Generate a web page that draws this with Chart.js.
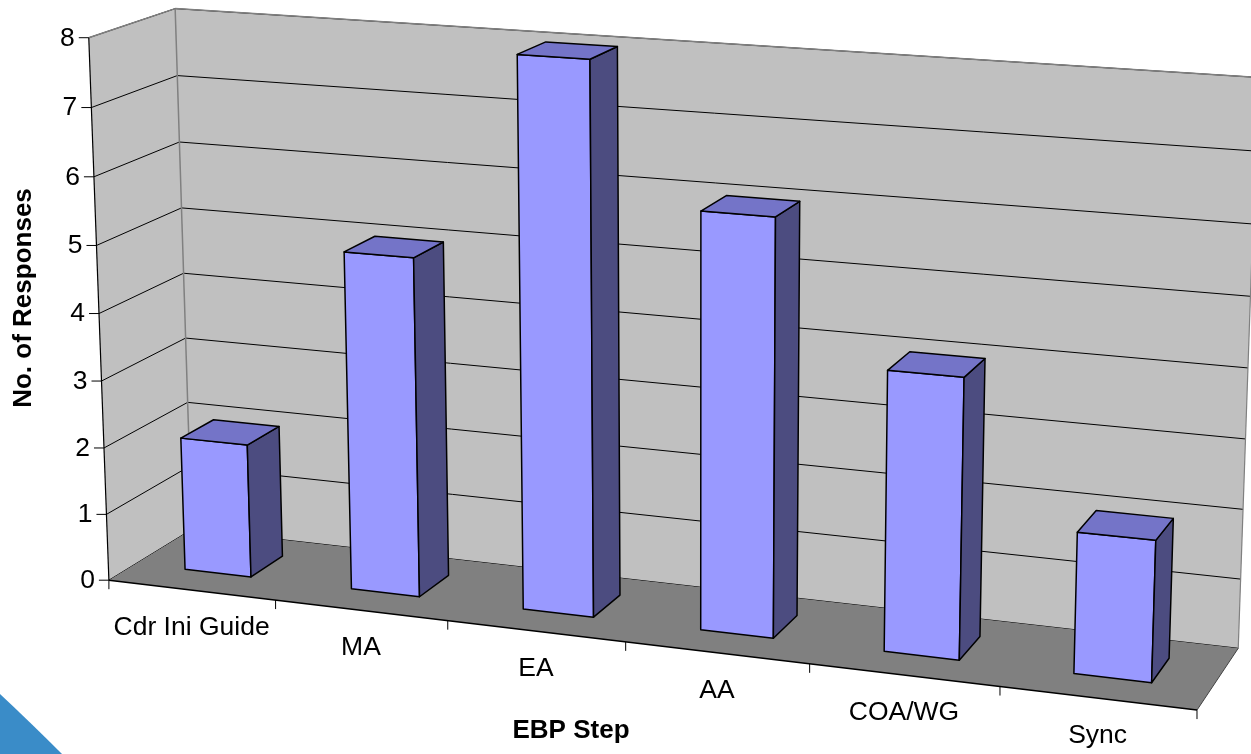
<!DOCTYPE html>
<html>
<head>
<meta charset="utf-8">
<style>
  html, body { margin: 0; padding: 0; background: #ffffff; overflow: hidden; }
  canvas { display: block; }
</style>
<script src="https://cdn.jsdelivr.net/npm/chart.js@4.4.1/dist/chart.umd.min.js"></script>
</head>
<body>
<canvas id="chart" width="1251" height="754"></canvas>
<script>
// ---- data ----
const categories = ['Cdr Ini Guide', 'MA', 'EA', 'AA', 'COA/WG', 'Sync'];
const responses = [2, 5, 8, 6, 4, 2];
const yTickValues = [0, 1, 2, 3, 4, 5, 6, 7, 8];
const yTitle = 'No. of Responses';
const xTitle = 'EBP Step';

// ---- 3-D frame ----
// Screen anchors of the chart box: [u, v, w, x, y]
// u runs across the categories (0..1), v up the value axis (0..1), w into depth (0 front .. 1 back wall)
const frameAnchors = [
  [0, 0, 0, 110, 578], [1/6, 0, 0, 276, 600], [2/6, 0, 0, 449, 620], [3/6, 0, 0, 626, 642],
  [4/6, 0, 0, 809, 665], [5/6, 0, 0, 999, 688], [1, 0, 0, 1198, 711],
  [0, 1/8, 0, 107, 513], [0, 2/8, 0, 103, 447], [0, 6/8, 0, 93, 177], [0, 7/8, 0, 91, 108], [0, 1, 0, 88, 39],
  [0, 0, 1, 190, 533], [0, 6/8, 1, 180, 142], [0, 7/8, 1, 178, 76], [0, 1, 1, 176, 7],
  [1, 0, 1, 1238, 647], [1, 1/8, 1, 1240.5, 578], [1, 2/8, 1, 1243, 508], [1, 3/8, 1, 1245.5, 440]
];
const barDepth = [0.32, 0.72];   // front and back of each column along w

const colors = {
  backWall: '#c0c0c0', sideWall: '#c0c0c0', floor: '#808080',
  wallEdge: '#808080', grid: '#000000', text: '#000000',
  barFront: '#9999ff', barTop: '#7474c8', barSide: '#4c4c80', barEdge: '#000000',
  swoosh: '#3a8cc8'
};
const labelFont = '25px "Liberation Sans", Arial, sans-serif';
const labelStretch = 1.06;

// Fit a pinhole camera (3x4 projective matrix) to the anchors by linear least squares.
function fitCamera(anchors) {
  const cx = 600, cy = 377, s = 600;
  const n = 11;
  const M = Array.from({ length: n }, () => new Array(n + 1).fill(0));
  const addRow = (row, rhs) => {
    for (let i = 0; i < n; i++) {
      for (let j = 0; j < n; j++) M[i][j] += row[i] * row[j];
      M[i][n] += row[i] * rhs;
    }
  };
  anchors.forEach(([X, Y, Z, px, py]) => {
    const x = (px - cx) / s, y = (py - cy) / s;
    addRow([X, Y, Z, 1, 0, 0, 0, 0, -x * X, -x * Y, -x * Z], x);
    addRow([0, 0, 0, 0, X, Y, Z, 1, -y * X, -y * Y, -y * Z], y);
  });
  for (let c = 0; c < n; c++) {
    let p = c;
    for (let r = c + 1; r < n; r++) if (Math.abs(M[r][c]) > Math.abs(M[p][c])) p = r;
    [M[c], M[p]] = [M[p], M[c]];
    for (let r = 0; r < n; r++) {
      if (r === c) continue;
      const f = M[r][c] / M[c][c];
      for (let k = c; k <= n; k++) M[r][k] -= f * M[c][k];
    }
  }
  const q = M.map((row, i) => row[n] / row[i]);
  return (X, Y, Z) => {
    const d = q[8] * X + q[9] * Y + q[10] * Z + 1;
    return [
      cx + s * (q[0] * X + q[1] * Y + q[2] * Z + q[3]) / d,
      cy + s * (q[4] * X + q[5] * Y + q[6] * Z + q[7]) / d
    ];
  };
}
const project = fitCamera(frameAnchors);

const box3d = {
  id: 'box3d',
  beforeDatasetsDraw(chart) {
    const ctx = chart.ctx;
    const area = chart.chartArea;
    const xs = chart.scales.x, ys = chart.scales.y;
    const U = px => (px - area.left) / (area.right - area.left);
    const V = py => (area.bottom - py) / (area.bottom - area.top);

    const poly = (pts, fill, stroke, lw) => {
      ctx.beginPath();
      pts.forEach((p, i) => i ? ctx.lineTo(p[0], p[1]) : ctx.moveTo(p[0], p[1]));
      ctx.closePath();
      if (fill) { ctx.fillStyle = fill; ctx.fill(); }
      if (stroke) { ctx.strokeStyle = stroke; ctx.lineWidth = lw; ctx.stroke(); }
    };
    const line = (a, b, color, lw) => {
      ctx.beginPath(); ctx.moveTo(a[0], a[1]); ctx.lineTo(b[0], b[1]);
      ctx.strokeStyle = color; ctx.lineWidth = lw; ctx.stroke();
    };
    // text drawn slightly widened around its anchor
    const label = (txt, x, y, align) => {
      ctx.save();
      ctx.translate(x, y);
      ctx.scale(labelStretch, 1);
      ctx.font = labelFont;
      ctx.fillStyle = colors.text;
      ctx.textAlign = align;
      ctx.textBaseline = 'middle';
      ctx.fillText(txt, 0, 0);
      ctx.restore();
    };
    const P = project;

    ctx.save();
    ctx.lineJoin = 'round';
    ctx.lineCap = 'butt';

    // corner decoration
    ctx.beginPath();
    ctx.moveTo(0, 694);
    ctx.quadraticCurveTo(30, 722, 62, 754);
    ctx.lineTo(0, 754);
    ctx.closePath();
    ctx.fillStyle = colors.swoosh;
    ctx.fill();

    // walls
    poly([P(0, 0, 1), P(1, 0, 1), P(1, 1, 1), P(0, 1, 1)], colors.backWall);
    poly([P(0, 0, 0), P(0, 0, 1), P(0, 1, 1), P(0, 1, 0)], colors.sideWall);

    // gridlines on both walls at every tick value
    yTickValues.forEach(t => {
      const v = V(ys.getPixelForValue(t));
      line(P(0, v, 0), P(0, v, 1), colors.grid, 1);
      line(P(0, v, 1), P(1, v, 1), colors.grid, 1);
    });

    // wall edges
    line(P(0, 1, 0), P(0, 1, 1), colors.wallEdge, 1.5);
    line(P(0, 1, 1), P(1, 1, 1), colors.wallEdge, 1.5);
    line(P(0, 0, 1), P(0, 1, 1), colors.wallEdge, 1.5);
    line(P(1, 0, 1), P(1, 1, 1), colors.wallEdge, 1.2);

    // floor
    poly([P(0, 0, 0), P(1, 0, 0), P(1, 0, 1), P(0, 0, 1)], colors.floor);
    line(P(1, 0, 0), P(1, 0, 1), '#404040', 1);

    // value axis along the front-left edge
    line(P(0, 0, 0), P(0, 1, 0), '#000000', 1.2);
    yTickValues.forEach(t => {
      const p = P(0, V(ys.getPixelForValue(t)), 0);
      line([p[0] - 10, p[1]], p, '#000000', 1);
      label(String(t), p[0] - 14, p[1] + 1, 'right');
    });

    // category axis along the front edge of the floor
    line(P(0, 0, 0), P(1, 0, 0), '#000000', 1.5);
    const nCat = categories.length;
    for (let k = 0; k <= nCat; k++) {
      const p = P(U(xs.getPixelForValue(k - 0.5)), 0, 0);
      line(p, [p[0], p[1] + 9], '#000000', 1);
    }
    categories.forEach((c, i) => {
      const p = P(U(xs.getPixelForValue(i)), 0, 0);
      label(c, p[0], p[1] + 38, 'center');
    });

    // columns
    const meta = chart.getDatasetMeta(0);
    const [w0, w1] = barDepth;
    meta.data.forEach(el => {
      const u0 = U(el.x - el.width / 2), u1 = U(el.x + el.width / 2);
      const v0 = V(el.base), v1 = V(el.y);
      poly([P(u0, v0, w0), P(u1, v0, w0), P(u1, v1, w0), P(u0, v1, w0)], colors.barFront, colors.barEdge, 1.5);
      poly([P(u1, v0, w0), P(u1, v0, w1), P(u1, v1, w1), P(u1, v1, w0)], colors.barSide, colors.barEdge, 1.5);
      poly([P(u0, v1, w0), P(u1, v1, w0), P(u1, v1, w1), P(u0, v1, w1)], colors.barTop, colors.barEdge, 1.5);
    });

    // axis titles
    ctx.fillStyle = colors.text;
    ctx.textAlign = 'center';
    ctx.textBaseline = 'middle';
    ctx.font = 'bold 26px "Liberation Sans", Arial, sans-serif';
    ctx.fillText(xTitle, 571, 731);
    ctx.save();
    ctx.translate(24, 298);
    ctx.rotate(-Math.PI / 2);
    ctx.fillText(yTitle, 0, 0);
    ctx.restore();

    ctx.restore();
    return false;
  }
};

new Chart(document.getElementById('chart'), {
  type: 'bar',
  data: {
    labels: categories,
    datasets: [{
      label: yTitle,
      data: responses,
      categoryPercentage: 1.0,
      barPercentage: 0.4
    }]
  },
  options: {
    responsive: false,
    animation: false,
    events: [],
    layout: { padding: 0 },
    plugins: { legend: { display: false }, tooltip: { enabled: false } },
    scales: {
      x: { type: 'category', display: false, offset: true },
      y: { type: 'linear', display: false, min: 0, max: 8, ticks: { stepSize: 1 } }
    }
  },
  plugins: [box3d]
});
</script>
</body>
</html>
